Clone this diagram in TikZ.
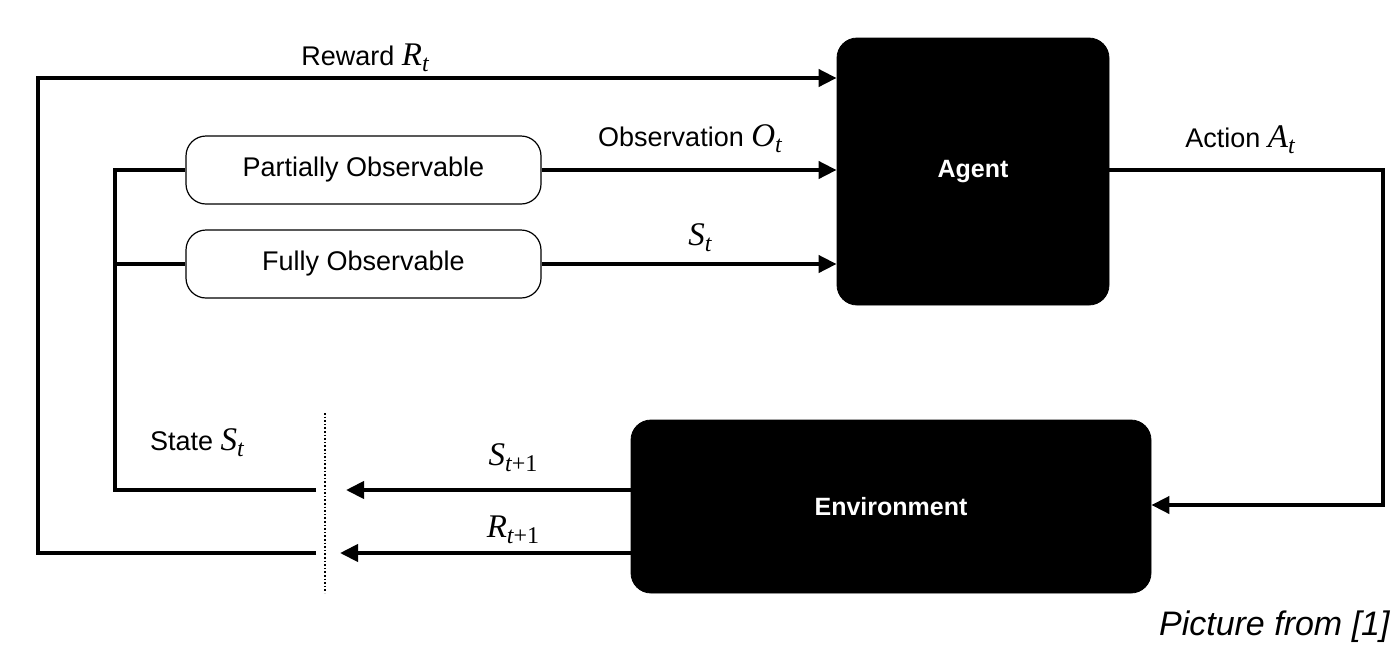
\documentclass[tikz,border=0pt]{standalone}
\usepackage{fontspec}
\setmainfont{Liberation Sans}
\newfontfamily\tms{Liberation Serif}
\usetikzlibrary{arrows.meta}
\newcommand\iv[2]{{\fontsize{16.5}{18}\selectfont\tms\itshape #1}\raisebox{-3pt}{\fontsize{12}{14}\selectfont\tms\itshape #2}}
\newcommand\ivp[1]{{\fontsize{16.5}{18}\selectfont\tms\itshape #1}\raisebox{-3pt}{\fontsize{12}{14}\selectfont\tms{\itshape t}+1}}
\begin{document}
\begin{tikzpicture}[x=0.5pt,y=-0.5pt,
  lbl/.style={font=\fontsize{13.5}{16}\selectfont, inner sep=0pt},
  blackbox/.style={fill=black, draw=black, rounded corners=10pt, text=white,
    font=\fontsize{12.5}{15}\selectfont\bfseries, inner sep=0pt},
  obsbox/.style={draw=black, line width=0.6pt, rounded corners=10pt, fill=white,
    minimum width=177.5pt, minimum height=34pt, inner sep=0pt,
    font=\fontsize{13.5}{16}\selectfont},
  link/.style={line width=2pt},
  arr/.style={line width=2pt, -{Triangle[length=9pt,width=8.5pt]}}]
\useasboundingbox (0,0) rectangle (1394,655);
% boxes
\node[blackbox, minimum width=136pt, minimum height=133.5pt] (agent) at (973,171.5) {Agent};
\node[blackbox, minimum width=260pt, minimum height=86.5pt] (env) at (891,506.5) {Environment};
\node[obsbox] (po) at (363.5,170) {Partially Observable};
\node[obsbox] (fo) at (363.5,264) {Fully Observable};
% coordinates
\coordinate (sL) at (316,490);
\coordinate (rL) at (316,553);
\coordinate (sA) at (346,490);
\coordinate (rA) at (340,553);
\coordinate (outer) at (38,78);
\coordinate (inner) at (115,170);
\coordinate (aR) at (1383,505);
\coordinate (dT) at (325,413);
\coordinate (dB) at (325,593);
% connectors
\draw[arr] (rL) -| (outer) -- (agent.west |- outer);
\draw[link] (sL) -| (inner) -- (po.west);
\draw[link] (inner |- fo.west) -- (fo.west);
\draw[arr] (po.east) -- (agent.west |- po.east);
\draw[arr] (fo.east) -- (agent.west |- fo.east);
\draw[arr] (agent.east |- po.east) -| (aR) -- (env.east |- aR);
\draw[arr] (env.west |- sA) -- (sA);
\draw[arr] (env.west |- rA) -- (rA);
\draw[line width=0.8pt, dash pattern=on 0.8pt off 1pt] (dT) -- (dB);
% labels
\node[lbl] (lrew) at (365,58) {Reward \iv{R}{t}};
\node[lbl] (lobs) at (690,139) {Observation \iv{O}{t}};
\node[lbl] (lst) at (700,238) {\iv{S}{t}};
\node[lbl] (lact) at (1240,140) {Action \iv{A}{t}};
\node[lbl] (lstate) at (197,443) {State \iv{S}{t}};
\node[lbl] (lsn) at (513,458) {\ivp{S}};
\node[lbl] (lrn) at (513,530) {\ivp{R}};
\node[anchor=east, inner sep=0pt, font=\fontsize{17}{20}\selectfont\itshape] (src) at (1390,627) {Picture from [1]};
\end{tikzpicture}
\end{document}
